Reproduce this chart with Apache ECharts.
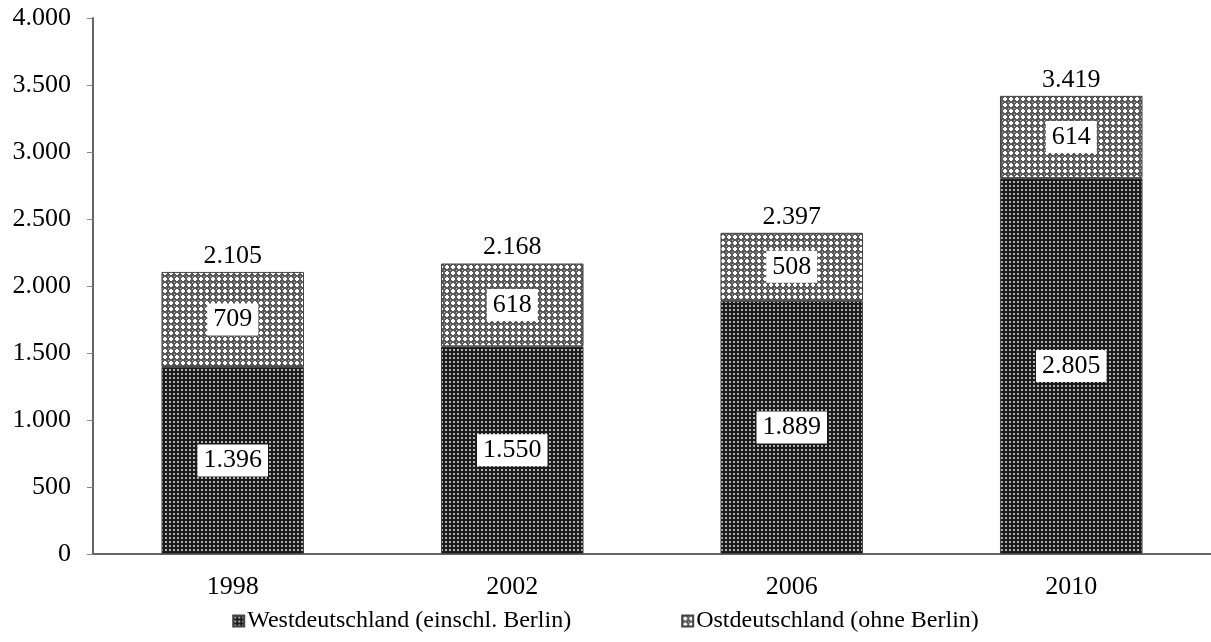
<!DOCTYPE html>
<html>
<head>
<meta charset="utf-8">
<script src="https://cdn.jsdelivr.net/npm/echarts@6/dist/echarts.min.js"></script>
<style>
  html, body { margin: 0; padding: 0; background: #fff; }
  #chart { width: 1211px; height: 642px; }
</style>
</head>
<body>
<div id="chart"></div>
<script>
// data
const years = ['1998', '2002', '2006', '2010'];
const west = [1396, 1550, 1889, 2805];
const east = [709, 618, 508, 614];
const totals = [2105, 2168, 2397, 3419];
const seriesNames = ['Westdeutschland (einschl. Berlin)', 'Ostdeutschland (ohne Berlin)'];

// 1.396 style numbers
const fmt = v => String(v).replace(/\B(?=(\d{3})+(?!\d))/g, '.');

const makeTile = (size, draw) => {
    const c = document.createElement('canvas');
    c.width = size;
    c.height = size;
    draw(c.getContext('2d'));
    return c;
};

// dark fill with light dots
const westTile = makeTile(4, ctx => {
    ctx.fillStyle = '#1c1c1c';
    ctx.fillRect(0, 0, 4, 4);
    ctx.fillStyle = '#b0b0b0';
    ctx.fillRect(1, 1, 2, 2);
});

// grey lattice with white crosses
const eastTile = makeTile(6, ctx => {
    ctx.fillStyle = '#5a5a5a';
    ctx.fillRect(0, 0, 6, 6);
    ctx.fillStyle = '#ffffff';
    ctx.fillRect(2, 1, 2, 4);
    ctx.fillRect(1, 2, 4, 2);
    ctx.fillStyle = '#c0c0c0';
    ctx.fillRect(0, 0, 1, 1);
});

const font = 'Liberation Serif';
const innerLabel = {
    show: true,
    position: 'inside',
    formatter: p => fmt(p.value),
    color: '#000',
    fontFamily: font,
    fontSize: 26,
    lineHeight: 26,
    backgroundColor: '#fff',
    padding: [4, 6, 2, 6]
};

const chart = echarts.init(document.getElementById('chart'));
const option = {
    animation: false,
    grid: { left: 93, right: 0, top: 18, bottom: 88 },
    legend: {
        data: seriesNames.map(n => ({ name: n, icon: 'rect' })),
        bottom: 4,
        left: 'center',
        itemWidth: 11,
        itemHeight: 11,
        itemGap: 110,
        textStyle: { fontFamily: font, fontSize: 24, color: '#000', padding: [0, 0, 0, -2] }
    },
    xAxis: {
        type: 'category',
        data: years,
        axisLine: { lineStyle: { color: '#666', width: 2 } },
        axisTick: { show: false },
        axisLabel: { fontFamily: font, fontSize: 26, color: '#000', margin: 20 }
    },
    yAxis: {
        type: 'value',
        min: 0,
        max: 4000,
        interval: 500,
        splitLine: { show: false },
        axisLine: { show: true, lineStyle: { color: '#666', width: 2 } },
        axisTick: { show: true, length: 6, lineStyle: { color: '#888' } },
        axisLabel: { fontFamily: font, fontSize: 26, color: '#000', margin: 22, formatter: v => fmt(v) }
    },
    series: [
        {
            name: seriesNames[0],
            type: 'bar',
            stack: 'total',
            barWidth: '51%',
            data: west,
            itemStyle: { color: { image: westTile, repeat: 'repeat' }, borderColor: '#444', borderWidth: 1 },
            label: innerLabel
        },
        {
            name: seriesNames[1],
            type: 'bar',
            stack: 'total',
            data: east,
            itemStyle: { color: { image: eastTile, repeat: 'repeat' }, borderColor: '#444', borderWidth: 1 },
            label: innerLabel
        },
        {
            name: 'Summe',
            type: 'bar',
            stack: 'total',
            data: totals.map(() => 0),
            itemStyle: { color: 'transparent' },
            label: {
                show: true,
                position: 'top',
                distance: 3,
                formatter: p => fmt(totals[p.dataIndex]),
                color: '#000',
                fontFamily: font,
                fontSize: 26
            }
        }
    ]
};
chart.setOption(option);
</script>
</body>
</html>
